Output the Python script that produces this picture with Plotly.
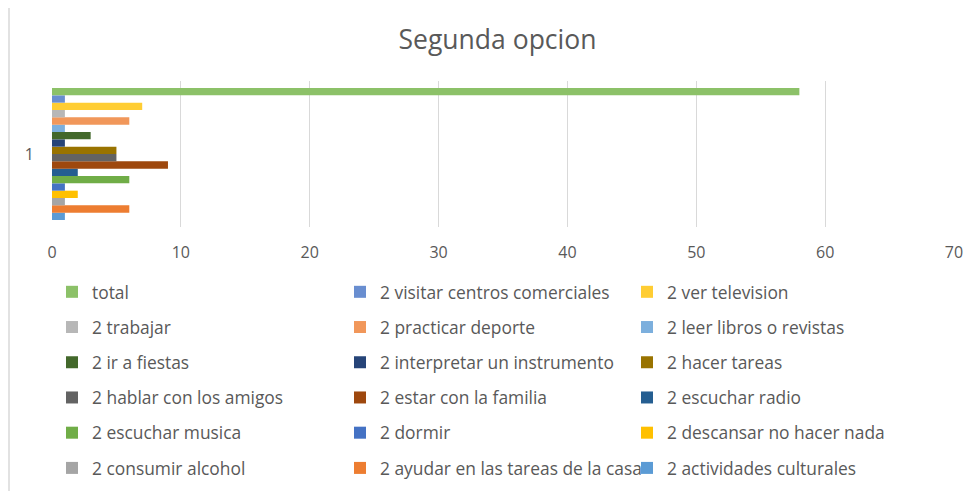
import plotly.graph_objects as go

# Series in plotting order (first = bottom bar), as in the source chart
series_names = [
    "2 actividades culturales",
    "2 ayudar en las tareas de la casa",
    "2 consumir alcohol",
    "2 descansar no hacer nada",
    "2 dormir",
    "2 escuchar musica",
    "2 escuchar radio",
    "2 estar con la familia",
    "2 hablar con los amigos",
    "2 hacer tareas",
    "2 interpretar un instrumento",
    "2 ir a fiestas",
    "2 leer libros o revistas",
    "2 practicar deporte",
    "2 trabajar",
    "2 ver television",
    "2 visitar centros comerciales",
    "total",
]
series_values = [1, 6, 1, 2, 1, 6, 2, 9, 5, 5, 1, 3, 1, 6, 1, 7, 1, 58]
series_colors = [
    "#5B9BD5", "#ED7D31", "#A5A5A5", "#FFC000", "#4472C4", "#70AD47",
    "#255E91", "#9E480E", "#636363", "#997300", "#264478", "#43682B",
    "#7CAFDD", "#F1975A", "#B7B7B7", "#FFCD33", "#698ED0", "#8CC168",
]
category = ["1"]
x_ticks = [0, 10, 20, 30, 40, 50, 60, 70]

# page body has an 8px margin; work in viewport coords and convert
OFF = 8
W, H = 979 - OFF, 491 - OFF
ML, MT = 52 - OFF, 81 - OFF
PR, PB = 954 - OFF, 227 - OFF
MR, MB = W - PR, H - PB
PW = PR - ML
PH = PB - MT

font_family = "Open Sans, Noto Sans, sans-serif"
grey = "#595959"

def vx(x):
    """viewport x pixel -> paper x"""
    return (x - OFF - ML) / PW

def vy(y):
    """viewport y pixel -> paper y"""
    return (PB - (y - OFF)) / PH

fig = go.Figure()
n = len(series_names)
legend_ids = ["legend", "legend2", "legend3"]
for i, (name, val, col) in enumerate(zip(series_names, series_values, series_colors)):
    rank = n - 1 - i  # legend shown in reverse order (total first)
    col_idx = rank % 3
    row_idx = rank // 3
    fig.add_trace(go.Bar(
        y=category, x=[val], name=name, orientation="h",
        marker=dict(color=col, line=dict(width=0)),
        legend=legend_ids[col_idx], legendrank=row_idx + 1,
        legendgroup=name,
    ))

leg_common = dict(
    orientation="v", yanchor="top", xanchor="left",
    font=dict(family=font_family, size=17.4, color=grey),
    bgcolor="rgba(0,0,0,0)", tracegroupgap=9.6, itemclick=False,
    itemdoubleclick=False,
)
leg_y = vy(274)
fig.update_layout(
    legend=dict(x=vx(52), y=leg_y, **leg_common),
    legend2=dict(x=vx(340), y=leg_y, **leg_common),
    legend3=dict(x=vx(627), y=leg_y, **leg_common),
)

fig.update_layout(
    width=W, height=H,
    margin=dict(l=ML, r=MR, t=MT, b=MB, autoexpand=False),
    paper_bgcolor="white", plot_bgcolor="white",
    barmode="group", bargap=0.096, bargroupgap=0,
    title=dict(text="Segunda opcion", x=vx(497.5), xref="paper", xanchor="center",
               y=1 - (40 - OFF) / H, yanchor="middle",
               font=dict(family=font_family, size=26.5, color=grey)),
    xaxis=dict(range=[0, 70], tickvals=x_ticks, showgrid=True,
               gridcolor="#D9D9D9", gridwidth=1, zeroline=False,
               showline=False, ticks="", ticklabelstandoff=14,
               tickfont=dict(family=font_family, size=16, color=grey)),
    yaxis=dict(showgrid=False, zeroline=False, showline=False, ticks="",
               ticklabelstandoff=17,
               tickfont=dict(family=font_family, size=16, color=grey)),
    font=dict(family=font_family, color=grey),
    showlegend=True,
)

fig.add_shape(type="rect", xref="paper", yref="paper",
              x0=vx(9), x1=vx(1000), y0=vy(520), y1=vy(5),
              line=dict(color="#D9D9D9", width=1.5), fillcolor="rgba(0,0,0,0)",
              layer="below")

fig.write_html("out.html")
